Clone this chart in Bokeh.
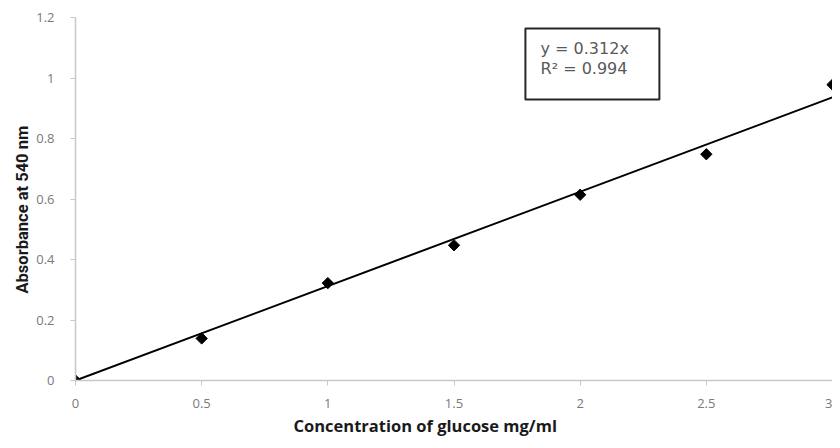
import math
from bokeh.plotting import figure
from bokeh.embed import file_html
from bokeh.resources import INLINE
from bokeh.models import FixedTicker, NumeralTickFormatter, BoxAnnotation, Label, Title

# Data
concentration = [0, 0.5, 1, 1.5, 2, 2.5, 3]
absorbance = [0.0, 0.139, 0.322, 0.447, 0.614, 0.748, 0.978]
slope = 0.312
r_squared = 0.994
x_ticks = [0, 0.5, 1, 1.5, 2, 2.5, 3]
y_ticks = [0, 0.2, 0.4, 0.6, 0.8, 1.0, 1.2]
trend_x = [0, 3]
trend_y = [slope * x for x in trend_x]
x_title = "Concentration of glucose mg/ml"
y_title = "Absorbance at 540 nm"

p = figure(width=832, height=440, output_backend="svg", toolbar_location=None,
           x_range=(0, 3), y_range=(0, 1.2),
           min_border_left=75, min_border_right=0, min_border_top=17, min_border_bottom=60)
p.outline_line_color = None
p.grid.grid_line_color = None
p.background_fill_color = "white"
p.border_fill_color = "white"

tick_font = "Open Sans"
for ax in (p.xaxis, p.yaxis):
    ax.axis_line_color = "#c8c8c8"
    ax.axis_line_width = 1.5
    ax.major_tick_line_color = "#c8c8c8"
    ax.major_tick_out = 5
    ax.major_tick_in = 0
    ax.minor_tick_line_color = None
    ax.major_label_text_color = "#7a7a7a"
    ax.major_label_text_font = tick_font
    ax.major_label_text_font_size = "13px"
    ax.formatter = NumeralTickFormatter(format="0.[0]")

p.xaxis.ticker = FixedTicker(ticks=x_ticks)
p.yaxis.ticker = FixedTicker(ticks=y_ticks)
p.xaxis.major_label_standoff = 13
p.yaxis.major_label_standoff = 16

p.line(trend_x, trend_y, line_color="black", line_width=2)
p.scatter(concentration, absorbance, marker="square", size=8, angle=math.pi / 4,
          fill_color="black", line_color="black")

# axis titles (offset like the original chart)
xt = Title(text=x_title, align="left", offset=218, text_font="Open Sans",
           text_font_size="16.5px", text_font_style="bold", text_color="#1a1a1a",
           standoff=3)
p.add_layout(xt, "below")
yt = Title(text=y_title, align="left", offset=87, text_font="Roboto",
           text_font_size="16.5px", text_font_style="bold", text_color="#1a1a1a",
           standoff=3)
p.add_layout(yt, "left")

# equation box
box = BoxAnnotation(left=1.783, right=2.314, bottom=0.929, top=1.164,
                    fill_color=None, fill_alpha=0, line_color="#262626",
                    line_alpha=1.0, line_width=2, level="overlay")
p.add_layout(box)
p.add_layout(Label(x=1.843, y=1.0975, text=f"y = {slope}x", text_font="DejaVu Sans",
                   text_font_size="16px", text_color="#595959",
                   text_baseline="middle"))
p.add_layout(Label(x=1.843, y=1.031, text=f"R\u00b2 = {r_squared}", text_font="DejaVu Sans",
                   text_font_size="16px", text_color="#595959",
                   text_baseline="middle"))

open("out.html", "w").write(file_html(p, INLINE))
